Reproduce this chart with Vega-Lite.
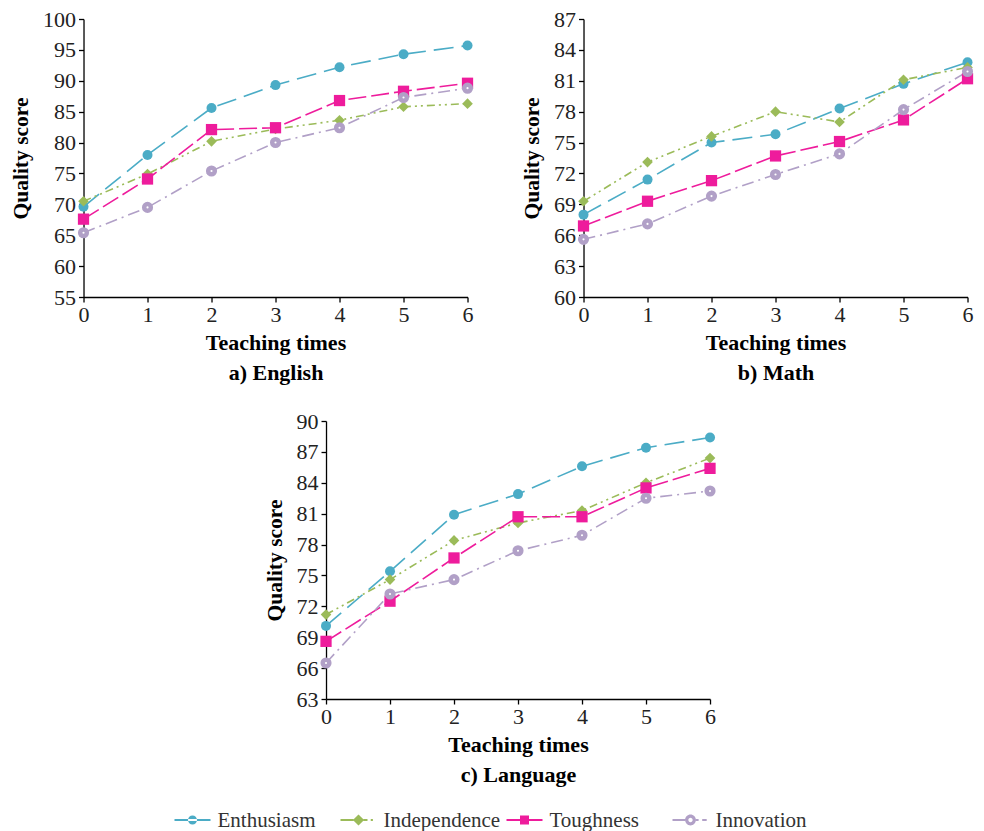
{
  "$schema": "https://vega.github.io/schema/vega-lite/v6.json",
  "background": "white",
  "padding": {"left": 10, "top": 8, "right": 5, "bottom": 2},
  "datasets": {
    "scores": [
      {"subject":"English","series":"Enthusiasm","t":0,"score":69.6},
      {"subject":"English","series":"Enthusiasm","t":1,"score":78.0},
      {"subject":"English","series":"Enthusiasm","t":2,"score":85.6},
      {"subject":"English","series":"Enthusiasm","t":3,"score":89.3},
      {"subject":"English","series":"Enthusiasm","t":4,"score":92.2},
      {"subject":"English","series":"Enthusiasm","t":5,"score":94.3},
      {"subject":"English","series":"Enthusiasm","t":6,"score":95.7},
      {"subject":"English","series":"Independence","t":0,"score":70.5},
      {"subject":"English","series":"Independence","t":1,"score":74.9},
      {"subject":"English","series":"Independence","t":2,"score":80.2},
      {"subject":"English","series":"Independence","t":3,"score":82.2},
      {"subject":"English","series":"Independence","t":4,"score":83.6},
      {"subject":"English","series":"Independence","t":5,"score":85.8},
      {"subject":"English","series":"Independence","t":6,"score":86.3},
      {"subject":"English","series":"Toughness","t":0,"score":67.6},
      {"subject":"English","series":"Toughness","t":1,"score":74.1},
      {"subject":"English","series":"Toughness","t":2,"score":82.1},
      {"subject":"English","series":"Toughness","t":3,"score":82.4},
      {"subject":"English","series":"Toughness","t":4,"score":86.8},
      {"subject":"English","series":"Toughness","t":5,"score":88.3},
      {"subject":"English","series":"Toughness","t":6,"score":89.6},
      {"subject":"English","series":"Innovation","t":0,"score":65.4},
      {"subject":"English","series":"Innovation","t":1,"score":69.5},
      {"subject":"English","series":"Innovation","t":2,"score":75.4},
      {"subject":"English","series":"Innovation","t":3,"score":80.0},
      {"subject":"English","series":"Innovation","t":4,"score":82.4},
      {"subject":"English","series":"Innovation","t":5,"score":87.3},
      {"subject":"English","series":"Innovation","t":6,"score":88.8},
      {"subject":"Math","series":"Enthusiasm","t":0,"score":68.0},
      {"subject":"Math","series":"Enthusiasm","t":1,"score":71.4},
      {"subject":"Math","series":"Enthusiasm","t":2,"score":75.0},
      {"subject":"Math","series":"Enthusiasm","t":3,"score":75.8},
      {"subject":"Math","series":"Enthusiasm","t":4,"score":78.3},
      {"subject":"Math","series":"Enthusiasm","t":5,"score":80.7},
      {"subject":"Math","series":"Enthusiasm","t":6,"score":82.8},
      {"subject":"Math","series":"Independence","t":0,"score":69.3},
      {"subject":"Math","series":"Independence","t":1,"score":73.1},
      {"subject":"Math","series":"Independence","t":2,"score":75.6},
      {"subject":"Math","series":"Independence","t":3,"score":78.0},
      {"subject":"Math","series":"Independence","t":4,"score":77.0},
      {"subject":"Math","series":"Independence","t":5,"score":81.1},
      {"subject":"Math","series":"Independence","t":6,"score":82.3},
      {"subject":"Math","series":"Toughness","t":0,"score":66.9},
      {"subject":"Math","series":"Toughness","t":1,"score":69.3},
      {"subject":"Math","series":"Toughness","t":2,"score":71.3},
      {"subject":"Math","series":"Toughness","t":3,"score":73.7},
      {"subject":"Math","series":"Toughness","t":4,"score":75.1},
      {"subject":"Math","series":"Toughness","t":5,"score":77.2},
      {"subject":"Math","series":"Toughness","t":6,"score":81.2},
      {"subject":"Math","series":"Innovation","t":0,"score":65.6},
      {"subject":"Math","series":"Innovation","t":1,"score":67.1},
      {"subject":"Math","series":"Innovation","t":2,"score":69.8},
      {"subject":"Math","series":"Innovation","t":3,"score":71.9},
      {"subject":"Math","series":"Innovation","t":4,"score":73.9},
      {"subject":"Math","series":"Innovation","t":5,"score":78.2},
      {"subject":"Math","series":"Innovation","t":6,"score":81.9},
      {"subject":"Language","series":"Enthusiasm","t":0,"score":70.1},
      {"subject":"Language","series":"Enthusiasm","t":1,"score":75.4},
      {"subject":"Language","series":"Enthusiasm","t":2,"score":80.9},
      {"subject":"Language","series":"Enthusiasm","t":3,"score":82.9},
      {"subject":"Language","series":"Enthusiasm","t":4,"score":85.6},
      {"subject":"Language","series":"Enthusiasm","t":5,"score":87.4},
      {"subject":"Language","series":"Enthusiasm","t":6,"score":88.4},
      {"subject":"Language","series":"Independence","t":0,"score":71.2},
      {"subject":"Language","series":"Independence","t":1,"score":74.6},
      {"subject":"Language","series":"Independence","t":2,"score":78.4},
      {"subject":"Language","series":"Independence","t":3,"score":80.1},
      {"subject":"Language","series":"Independence","t":4,"score":81.3},
      {"subject":"Language","series":"Independence","t":5,"score":84.0},
      {"subject":"Language","series":"Independence","t":6,"score":86.4},
      {"subject":"Language","series":"Toughness","t":0,"score":68.6},
      {"subject":"Language","series":"Toughness","t":1,"score":72.5},
      {"subject":"Language","series":"Toughness","t":2,"score":76.7},
      {"subject":"Language","series":"Toughness","t":3,"score":80.7},
      {"subject":"Language","series":"Toughness","t":4,"score":80.7},
      {"subject":"Language","series":"Toughness","t":5,"score":83.5},
      {"subject":"Language","series":"Toughness","t":6,"score":85.4},
      {"subject":"Language","series":"Innovation","t":0,"score":66.5},
      {"subject":"Language","series":"Innovation","t":1,"score":73.2},
      {"subject":"Language","series":"Innovation","t":2,"score":74.6},
      {"subject":"Language","series":"Innovation","t":3,"score":77.4},
      {"subject":"Language","series":"Innovation","t":4,"score":78.9},
      {"subject":"Language","series":"Innovation","t":5,"score":82.5},
      {"subject":"Language","series":"Innovation","t":6,"score":83.2}
    ]
  },
  "spacing": 25,
  "center": true,
  "resolve": {"scale": {"shape": "independent", "size": "independent"}},
  "vconcat": [
    {
      "spacing": 27,
      "center": true,
      "vconcat": [
        {
          "spacing": 41,
          "hconcat": [
            {
              "width": 384, "height": 278,
              "data": {"name": "scores"},
              "transform": [{"filter": "datum.subject === 'English'"}],
              "encoding": {
                "x": {"field": "t", "type": "quantitative", "scale": {"domain": [0, 6], "nice": false}, "axis": {"values": [0,1,2,3,4,5,6], "format": "d", "title": ["Teaching times", "a) English"]}},
                "y": {"field": "score", "type": "quantitative", "scale": {"domain": [55, 100], "nice": false, "zero": false}, "axis": {"values": [55,60,65,70,75,80,85,90,95,100], "title": "Quality score"}},
                "color": {"field": "series", "type": "nominal", "scale": {"domain": ["Enthusiasm","Independence","Toughness","Innovation"], "range": ["#4BACC6","#9BBB59","#EE1C9C","#B1A0C7"]}, "legend": null}
              },
              "layer": [
                {"mark": {"type": "line", "strokeWidth": 1.6}, "encoding": {"strokeDash": {"field": "series", "type": "nominal", "scale": {"domain": ["Enthusiasm","Independence","Toughness","Innovation"], "range": [[20,8],[8,4,2,4,2,4],[18,5],[12,5,2,5]]}, "legend": null}}},
                {"transform": [{"filter": "datum.series !== 'Innovation'"}], "mark": {"type": "point", "filled": true, "opacity": 1}, "encoding": {"shape": {"field": "series", "type": "nominal", "scale": {"domain": ["Enthusiasm","Independence","Toughness","Innovation"], "range": ["circle","diamond","square","circle"]}, "legend": null}, "size": {"field": "series", "type": "nominal", "scale": {"domain": ["Enthusiasm","Independence","Toughness","Innovation"], "range": [100,140,110,44]}, "legend": null}}},
                {"transform": [{"filter": "datum.series === 'Innovation'"}], "mark": {"type": "point", "filled": false, "fill": "white", "strokeWidth": 4.5, "size": 44, "opacity": 1}}
              ]
            },
            {
              "width": 384, "height": 278,
              "data": {"name": "scores"},
              "transform": [{"filter": "datum.subject === 'Math'"}],
              "encoding": {
                "x": {"field": "t", "type": "quantitative", "scale": {"domain": [0, 6], "nice": false}, "axis": {"values": [0,1,2,3,4,5,6], "format": "d", "title": ["Teaching times", "b) Math"]}},
                "y": {"field": "score", "type": "quantitative", "scale": {"domain": [60, 87], "nice": false, "zero": false}, "axis": {"values": [60,63,66,69,72,75,78,81,84,87], "title": "Quality score"}},
                "color": {"field": "series", "type": "nominal", "scale": {"domain": ["Enthusiasm","Independence","Toughness","Innovation"], "range": ["#4BACC6","#9BBB59","#EE1C9C","#B1A0C7"]}, "legend": null}
              },
              "layer": [
                {"mark": {"type": "line", "strokeWidth": 1.6}, "encoding": {"strokeDash": {"field": "series", "type": "nominal", "scale": {"domain": ["Enthusiasm","Independence","Toughness","Innovation"], "range": [[20,8],[8,4,2,4,2,4],[18,5],[12,5,2,5]]}, "legend": null}}},
                {"transform": [{"filter": "datum.series !== 'Innovation'"}], "mark": {"type": "point", "filled": true, "opacity": 1}, "encoding": {"shape": {"field": "series", "type": "nominal", "scale": {"domain": ["Enthusiasm","Independence","Toughness","Innovation"], "range": ["circle","diamond","square","circle"]}, "legend": null}, "size": {"field": "series", "type": "nominal", "scale": {"domain": ["Enthusiasm","Independence","Toughness","Innovation"], "range": [100,140,110,44]}, "legend": null}}},
                {"transform": [{"filter": "datum.series === 'Innovation'"}], "mark": {"type": "point", "filled": false, "fill": "white", "strokeWidth": 4.5, "size": 44, "opacity": 1}}
              ]
            }
          ]
        },
        {
          "width": 384, "height": 278,
          "title": {"text": " ", "orient": "right", "offset": 9, "fontSize": 6},
          "data": {"name": "scores"},
          "transform": [{"filter": "datum.subject === 'Language'"}],
          "encoding": {
            "x": {"field": "t", "type": "quantitative", "scale": {"domain": [0, 6], "nice": false}, "axis": {"values": [0,1,2,3,4,5,6], "format": "d", "title": ["Teaching times", "c) Language"]}},
            "y": {"field": "score", "type": "quantitative", "scale": {"domain": [63, 90], "nice": false, "zero": false}, "axis": {"values": [63,66,69,72,75,78,81,84,87,90], "title": "Quality score"}},
            "color": {"field": "series", "type": "nominal", "scale": {"domain": ["Enthusiasm","Independence","Toughness","Innovation"], "range": ["#4BACC6","#9BBB59","#EE1C9C","#B1A0C7"]}, "legend": null}
          },
          "layer": [
            {"mark": {"type": "line", "strokeWidth": 1.6}, "encoding": {"strokeDash": {"field": "series", "type": "nominal", "scale": {"domain": ["Enthusiasm","Independence","Toughness","Innovation"], "range": [[20,8],[8,4,2,4,2,4],[18,5],[12,5,2,5]]}, "legend": null}}},
            {"transform": [{"filter": "datum.series !== 'Innovation'"}], "mark": {"type": "point", "filled": true, "opacity": 1}, "encoding": {"shape": {"field": "series", "type": "nominal", "scale": {"domain": ["Enthusiasm","Independence","Toughness","Innovation"], "range": ["circle","diamond","square","circle"]}, "legend": null}, "size": {"field": "series", "type": "nominal", "scale": {"domain": ["Enthusiasm","Independence","Toughness","Innovation"], "range": [100,140,110,44]}, "legend": null}}},
            {"transform": [{"filter": "datum.series === 'Innovation'"}], "mark": {"type": "point", "filled": false, "fill": "white", "strokeWidth": 4.5, "size": 44, "opacity": 1}}
          ]
        }
      ]
    },
    {
      "width": 678, "height": 20,
      "data": {"name": "scores"},
      "transform": [{"filter": "datum.subject === 'English' && datum.t === 0"}],
      "encoding": {
        "x": {"field": "series", "type": "nominal", "sort": ["Enthusiasm","Independence","Toughness","Innovation"], "scale": {"type": "point", "padding": 0, "range": [0, 498]}, "axis": null},
        "color": {"field": "series", "type": "nominal", "scale": {"domain": ["Enthusiasm","Independence","Toughness","Innovation"], "range": ["#4BACC6","#9BBB59","#EE1C9C","#B1A0C7"]}, "legend": null}
      },
      "layer": [
        {"mark": {"type": "point", "filled": true, "opacity": 1, "size": 1296, "strokeWidth": 0},
         "encoding": {"shape": {"field": "series", "type": "nominal", "legend": null, "scale": {"domain": ["Enthusiasm","Independence","Toughness","Innovation"], "range": [
           "M-1,-0.055H1V0.055H-1Z M-0.25,0A0.25,0.25 0 1,0 0.25,0A0.25,0.25 0 1,0 -0.25,0Z",
           "M-1,-0.055H-0.28V0.055H-1Z M0.28,-0.055H0.5V0.055H0.28Z M0.68,-0.055H0.8V0.055H0.68Z M0,-0.31L0.31,0L0,0.31L-0.31,0Z",
           "M-1,-0.055H1V0.055H-1Z M-0.25,-0.25H0.25V0.25H-0.25Z",
           "M-1,-0.055H-0.3V0.055H-1Z M0.3,-0.055H0.45V0.055H0.3Z M0.65,-0.055H0.9V0.055H0.65Z M-0.3,0A0.3,0.3 0 1,0 0.3,0A0.3,0.3 0 1,0 -0.3,0Z M-0.12,0A0.12,0.12 0 1,1 0.12,0A0.12,0.12 0 1,1 -0.12,0Z"
         ]}}}},
        {"mark": {"type": "text", "align": "left", "baseline": "middle", "dx": 25, "dy": 1, "font": "Liberation Serif", "fontSize": 21, "fontWeight": "normal"},
         "encoding": {"text": {"field": "series", "type": "nominal"}, "color": {"value": "#333333"}}}
      ]
    }
  ],
  "config": {
    "view": {"stroke": null},
    "font": "Liberation Serif",
    "axis": {"grid": false, "domainColor": "#000000", "domainWidth": 1.3, "tickColor": "#000000", "tickWidth": 1.3, "tickSize": 5, "labelFlush": false, "labelFont": "Liberation Serif", "labelFontSize": 22, "labelColor": "#222222", "titleFont": "Liberation Serif", "titleFontSize": 22, "titleFontWeight": "bold", "titleColor": "#000000"},
    "axisX": {"labelPadding": 2, "titlePadding": 7, "titleLineHeight": 30},
    "axisY": {"labelPadding": 3, "titlePadding": 10, "titleFontSize": 21.5}
  }
}
